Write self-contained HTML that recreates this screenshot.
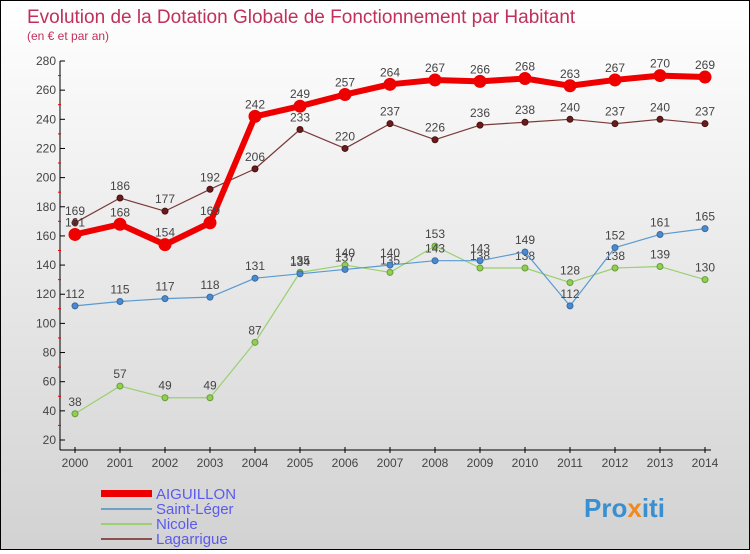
<!DOCTYPE html>
<html><head><meta charset="utf-8"><style>
body{margin:0;width:750px;height:550px;overflow:hidden;font-family:"Liberation Sans",sans-serif;}
#wrap{position:relative;width:748px;height:548px;border:1px solid #000;background:linear-gradient(#ffffff,#d2d2d2);}
</style></head><body>
<div id="wrap">
<svg id="chart" width="748" height="548">
<text x="26" y="22" font-size="19" fill="#c0305a">Evolution de la Dotation Globale de Fonctionnement par Habitant</text>
<text x="26" y="39" font-size="12" fill="#c0305a">(en € et par an)</text>
<g id="axes"></g><g id="series"></g>
<g>
<rect x="100" y="489" width="51" height="7" fill="#e00"/>
<text x="155" y="498" font-size="15" fill="#5a5aee">AIGUILLON</text>
<rect x="100" y="507" width="51" height="2" fill="#6fa0c8"/>
<text x="155" y="513" font-size="15" fill="#5a5aee">Saint-Léger</text>
<rect x="100" y="522" width="51" height="2" fill="#9ad070"/>
<text x="155" y="528" font-size="15" fill="#5a5aee">Nicole</text>
<rect x="100" y="537" width="51" height="2" fill="#8a5050"/>
<text x="155" y="543" font-size="15" fill="#5a5aee">Lagarrigue</text>
</g>
<text x="583" y="516" font-size="26" font-weight="bold" fill="#3a8fd0">Pro<tspan fill="#f08a20">x</tspan>iti</text>
</svg>
</div>
<script>
const years=[2000,2001,2002,2003,2004,2005,2006,2007,2008,2009,2010,2011,2012,2013,2014];
const yTicks=[20,40,60,80,100,120,140,160,180,200,220,240,260,280];
const aiguillon=[161,168,154,169,242,249,257,264,267,266,268,263,267,270,269];
const saintLeger=[112,115,117,118,131,134,137,140,143,143,149,112,152,161,165];
const nicole=[38,57,49,49,87,135,140,135,153,138,138,128,138,139,130];
const lagarrigue=[169,186,177,192,206,233,220,237,226,236,238,240,237,240,237];
const NS="http://www.w3.org/2000/svg";
const xS=i=>74+i*45;
const yS=v=>439-(v-20)*(379/260);
function mk(t,a,p){const e=document.createElementNS(NS,t);for(const k in a)e.setAttribute(k,a[k]);p.appendChild(e);return e;}
const ax=document.getElementById('axes');
let l=mk('line',{x1:59,y1:60,x2:59,y2:449,stroke:'#000'},ax);


l=mk('line',{x1:59,y1:449,x2:710,y2:449,stroke:'#000'},ax);


yTicks.forEach(v=>{const y=yS(v);
mk('line',{x1:59,y1:y,x2:64,y2:y,stroke:'#000'},ax);
if(v<280)mk('line',{x1:57,y1:y-14.6,x2:60,y2:y-14.6,stroke:'#e00'},ax);
const t=mk('text',{x:55,y:y+4,'font-size':12,fill:'#444','text-anchor':'end'},ax);t.textContent=v;

});
years.forEach((yr,i)=>{const x=xS(i);
mk('line',{x1:x,y1:446,x2:x,y2:452,stroke:'#000'},ax);
const t=mk('text',{x:x,y:466,'font-size':12,fill:'#444','text-anchor':'middle'},ax);t.textContent=yr;

});
const sg=document.getElementById('series');
function draw(name,data,color,w,r,fill,stroke){
const g=mk('g',{},sg);


const pl=mk('polyline',{points:data.map((v,i)=>xS(i)+','+yS(v)).join(' '),fill:'none',stroke:color,'stroke-width':w,'stroke-linejoin':'round'},g);


data.forEach((v,i)=>{const c=mk('circle',{cx:xS(i),cy:yS(v),r:r,fill:fill,stroke:stroke,'stroke-width':1},g);


const t=mk('text',{x:xS(i),y:yS(v)-8,'font-size':12,fill:'#444','text-anchor':'middle'},g);t.textContent=v;

});}
draw('lagarrigue',lagarrigue,'#7a3a3a',1.2,3,'#6a1c1c','#4a1010');
draw('nicole',nicole,'#9ad070',1.2,3,'#8fd050','#6a9a40');
draw('saint-leger',saintLeger,'#5a9ad0',1.2,3,'#4a8ad0','#3a6aa0');
draw('aiguillon',aiguillon,'#ee0000',6,6,'#ee0000','#ee0000');
</script>
</body></html>
